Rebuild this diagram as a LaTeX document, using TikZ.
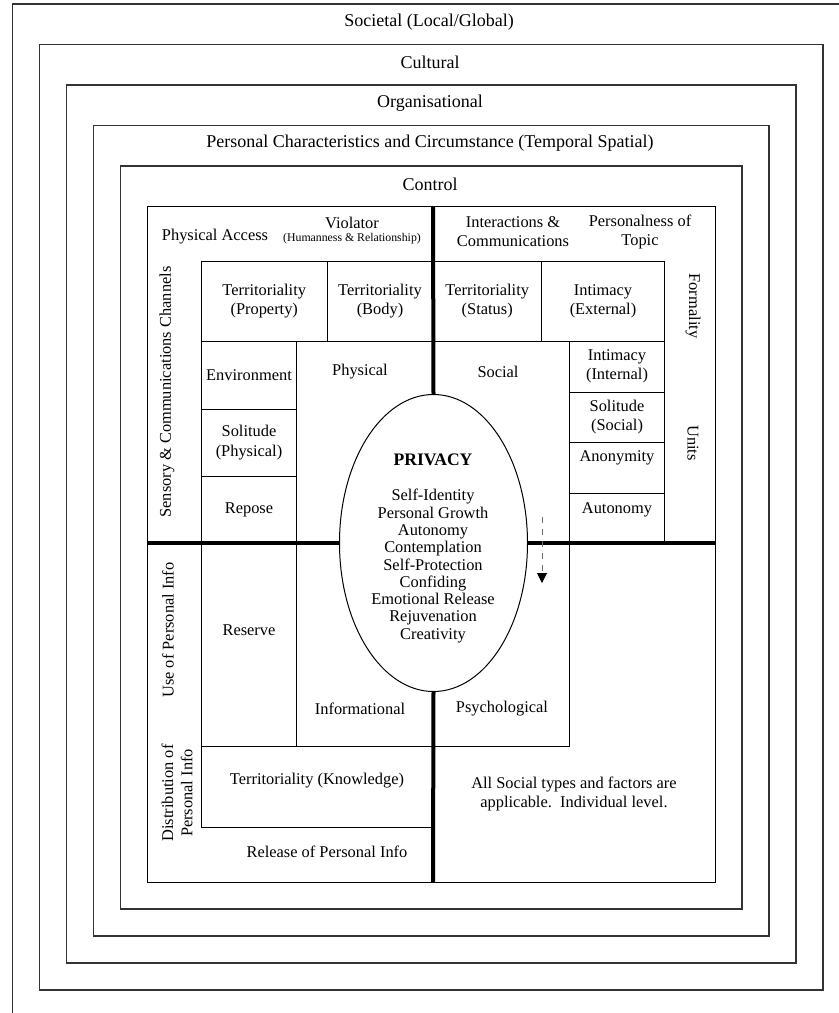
\documentclass[tikz,border=0pt]{standalone}
\usepackage{fontspec}
\setmainfont{Liberation Serif}
\usepackage{xcolor}
\usepackage{tikz}
\usetikzlibrary{shapes,arrows,arrows.meta,positioning}

\tikzset{
    ring/.style={line width=0.6pt, draw=black!80},
    cell/.style={line width=0.5pt, draw=black},
    axis/.style={line width=2pt, draw=black},
    lbl/.style={font=\fontsize{8.2}{9.6}\selectfont, align=center, inner sep=0pt},
    ringlbl/.style={font=\fontsize{9}{10}\selectfont, align=center, inner sep=0pt},
    small/.style={font=\fontsize{5.9}{6.5}\selectfont, align=center, inner sep=0pt},
}

\begin{document}
\begin{tikzpicture}[x=0.5pt,y=-0.5pt]
                \useasboundingbox (0,0) rectangle (839,1013);

                % outermost frame, only top and left show
                \draw[ring] (12.5,1013) |- (839,4);
                \node[ringlbl] (societal) at (429,22) {Societal (Local/Global)};

                % nested frames
                \foreach \k/\name/\txt in {1/cultural/Cultural,
                        2/organisational/Organisational,
                        3/personal/{Personal Characteristics and Circumstance (Temporal Spatial)},
                        4/control/Control} {
                    \draw[ring] ({12.5+27*\k},{4+40.5*\k}) rectangle ({850-27*\k},{1017-27*\k});
                    \node[ringlbl] (\name) at (430,{22+40.5*\k}) {\txt};
                }

                % inner frame
                \draw[cell] (147.5,206.5) rectangle (715,882);

                % top band
                \node[lbl] (access) at (215,237) {Physical Access};
                \node[lbl] (violator) at (352,223) {Violator};
                \node[small] (human) at (352,239) {(Humanness \& Relationship)};
                \node[lbl] (interact) at (513,232) {Interactions \&\\Communications};
                \node[lbl] (topic) at (640,232) {Personalness of\\Topic};

                % territoriality row
                \draw[cell] (201.5,261) rectangle (327,341)
                    node[pos=.5, lbl] (terprop) {Territoriality\\(Property)};
                \draw[cell] (327,261) rectangle (433,341)
                    node[pos=.5, lbl] (terbody) {Territoriality\\(Body)};
                \draw[cell] (433,261) rectangle (541.5,341)
                    node[pos=.5, lbl] (terstatus) {Territoriality\\(Status)};
                \draw[cell] (541.5,261) rectangle (664.5,341)
                    node[pos=.5, lbl] (intext) {Intimacy\\(External)};

                % left column
                \draw[cell] (201.5,341) rectangle (296.5,409)
                    node[pos=.5, lbl] (environ) {Environment};
                \draw[cell] (201.5,409) rectangle (296.5,476)
                    node[pos=.5, lbl] (solphys) {Solitude\\(Physical)};
                \draw[cell] (201.5,476) rectangle (296.5,543)
                    node[pos=.5, lbl] (repose) {Repose};

                % right column
                \draw[cell] (569.5,341) rectangle (664.5,392)
                    node[pos=.5, lbl] (intint) {Intimacy\\(Internal)};
                \draw[cell] (569.5,392) rectangle (664.5,442.5)
                    node[pos=.5, lbl] (solsoc) {Solitude\\(Social)};
                \draw[cell] (569.5,442.5) rectangle (664.5,493.5);
                \node[lbl] (anon) at (617,458) {Anonymity};
                \draw[cell] (569.5,493.5) rectangle (664.5,543);
                \node[lbl] (autonomy) at (617,510) {Autonomy};

                % quadrant outline and lower boxes
                \draw[cell] (296.5,341) -- (296.5,746) -- (569.5,746) -- (569.5,543);
                \draw[cell] (201.5,543) rectangle (296.5,746);
                \node[lbl] (reserve) at (249,630) {Reserve};
                \draw[cell] (201.5,746) rectangle (433,827);
                \node[lbl] (terknow) at (317,781) {Territoriality (Knowledge)};

                % centre
                \node[
                    draw,
                    ellipse,
                    line width=0.5pt,
                    minimum width=94pt,
                    minimum height=148.5pt,
                    fill=white
                    ] (core) at (433.5,543) {};
                \node[lbl, font=\fontsize{8.8}{9.6}\selectfont\bfseries] (privacy) at (433,460) {PRIVACY};
                \node[lbl, font=\fontsize{8.2}{8.65}\selectfont] (functions) at (433,566)
                    {Self-Identity\\Personal Growth\\Autonomy\\Contemplation\\Self-Protection\\Confiding\\Emotional Release\\Rejuvenation\\Creativity};

                % thick axes
                \coordinate (axtop) at (433,206.5);
                \coordinate (axbot) at (433,882);
                \coordinate (axleft) at (147.5,543);
                \coordinate (axright) at (715,543);
                \draw[axis] (axtop) -- (core.north);
                \draw[axis] (core.south) -- (axbot);
                \draw[axis] (axleft) -- (core.west);
                \draw[axis] (core.east) -- (axright);

                % quadrant names
                \node[lbl] (physical) at (360,372) {Physical};
                \node[lbl] (social) at (498,372) {Social};
                \node[lbl] (informational) at (360,709) {Informational};
                \node[lbl] (psychological) at (502,709) {Psychological};
                \node[lbl] (release) at (327,852) {Release of Personal Info};
                \node[lbl] (allsocial) at (574,794) {All Social types and factors are\\applicable.\ \ Individual level.};

                % side labels
                \node[lbl, rotate=90] (sensory) at (167,392) {Sensory \& Communications Channels};
                \node[lbl, rotate=90] (useinfo) at (168,630) {Use of Personal Info};
                \node[lbl, rotate=90] (distinfo) at (177,793) {Distribution of\\Personal Info};
                \node[lbl, rotate=-90] (formality) at (693,306) {Formality};
                \node[lbl, rotate=-90] (units) at (693,443) {Units};

                % dashed arrow
                \coordinate (flowtop) at (542,517);
                \coordinate (flowend) at (542,583);
                \draw[
                    dashed,
                    line width=0.5pt,
                    draw=black!55,
                    -{Triangle[color=black,length=5pt,width=5pt]}
                ] (flowtop) -- (flowend);

            \end{tikzpicture}
\end{document}
